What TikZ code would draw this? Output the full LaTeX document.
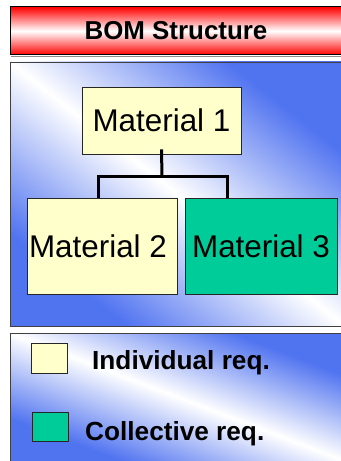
\documentclass[tikz,border=0pt]{standalone}
\usepackage{fontspec}
\setmainfont{Liberation Sans}
\definecolor{hdrred}{RGB}{255,0,0}
\definecolor{bgblue}{RGB}{80,115,240}
\definecolor{matyellow}{RGB}{255,255,204}
\definecolor{matgreen}{RGB}{0,204,153}
\begin{document}
\begin{tikzpicture}[x=1bp,y=-1bp,
  panel/.style={draw=black!75,line width=0.8bp},
  bandshade/.style={top color=bgblue,bottom color=bgblue,middle color=white},
  matbox/.style={draw=black!85,line width=0.9bp,inner sep=0pt,font=\fontsize{31.5}{34}\selectfont},
  keybox/.style={draw=black!85,line width=0.9bp,inner sep=0pt},
  keytext/.style={anchor=west,inner sep=0pt,font=\bfseries\fontsize{26.3}{28}\selectfont},
  link/.style={line width=3bp,black}]
\useasboundingbox (0,0) rectangle (340,461);
% header
\shade[top color=hdrred,bottom color=hdrred,middle color=white] (10,7) rectangle (345,55);
\draw[line width=1bp,black] (10,7) rectangle (345,55);
\draw[line width=1.2bp,black!45] (11,56.5) -- (345,56.5);
\node[font=\bfseries\fontsize{26}{28}\selectfont] (title) at (176,31) {BOM Structure};
% main panel
\begin{scope}
\clip (10,62) rectangle (345,326);
\begin{scope}[transform canvas={shift={(177.5,194)},rotate=-38.2}]
\fill[bgblue] (-300,-300) rectangle (300,300);
\shade[bandshade] (-300,-135) rectangle (300,135);
\end{scope}
\end{scope}
\draw[panel] (10,62) rectangle (345,326);
% materials
\node[matbox,fill=matyellow,minimum width=159bp,minimum height=67bp] (m1) at (161.5,120.5) {Material 1};
\node[matbox,fill=matyellow,minimum width=150bp,minimum height=96bp] (m2) at (102,246) {Material 2\hspace*{8bp}};
\node[matbox,fill=matgreen,minimum width=152bp,minimum height=96bp] (m3) at (261,246) {Material 3};
\coordinate (jn) at (162,176.5);
\draw[link] ([yshift=5bp]m1.south) -- (jn);
\draw[link] (m2.north -| 98,0) |- (jn) -| (m3.north -| 227,0);
% legend panel
\begin{scope}
\clip (10,333) rectangle (345,470);
\begin{scope}[transform canvas={shift={(177.5,397)},rotate=-20.9}]
\fill[bgblue] (-300,-200) rectangle (300,200);
\shade[bandshade] (-250,-80) rectangle (250,80);
\end{scope}
\end{scope}
\draw[panel] (10,333) rectangle (345,470);
\node[keybox,fill=matyellow,minimum width=36bp,minimum height=30bp] (k1) at (49,358) {};
\node[keybox,fill=matgreen,minimum width=36bp,minimum height=29bp] (k2) at (50,426.5) {};
\node[keytext] (t1) at (92,363) {Individual req.};
\node[keytext] (t2) at (85,434) {Collective req.};
\end{tikzpicture}
\end{document}
